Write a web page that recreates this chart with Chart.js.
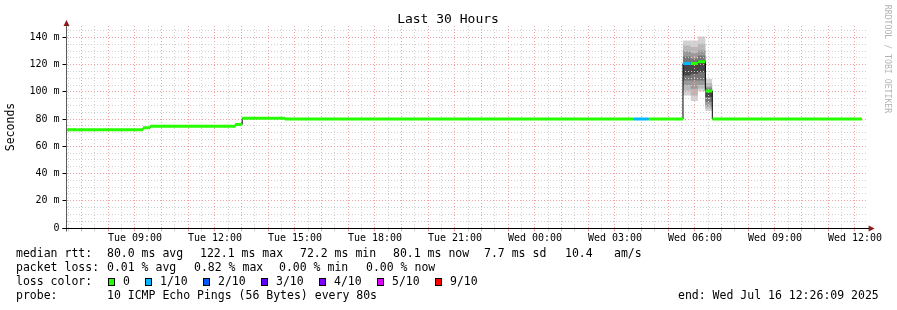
<!DOCTYPE html>
<html>
<head>
<meta charset="utf-8">
<script src="https://cdn.jsdelivr.net/npm/chart.js@4.4.0/dist/chart.umd.min.js"></script>
<style>
    html, body { margin: 0; padding: 0; background: #ffffff; }
</style>
</head>
<body>
<canvas id="SmokeChart" width="897" height="310"></canvas>
<script>
// hours counted from Tue 00:00, graph covers the last 30 hours
const startHour = 6.436;
const endHour = 36.436;

const timeTicks = [9, 12, 15, 18, 21, 24, 27, 30, 33, 36];
const timeLabels = ['Tue 09:00', 'Tue 12:00', 'Tue 15:00', 'Tue 18:00', 'Tue 21:00', 'Wed 00:00', 'Wed 03:00', 'Wed 06:00', 'Wed 09:00', 'Wed 12:00'];
const rttTicks = [0, 20, 40, 60, 80, 100, 120, 140];
const rttLabels = ['0', '20 m', '40 m', '60 m', '80 m', '100 m', '120 m', '140 m'];

// median rtt in ms, each value holds from its time to the next one
const medianTimes = [6.436, 9.30, 9.57, 12.76, 13.02, 14.62, 27.70, 28.26, 29.55, 29.84, 30.11, 30.39, 30.65, 36.25];
const medianValues = [72.2, 73.6, 74.7, 76.1, 80.6, 80.0, 80.0, 80.0, 120.9, 120.9, 122.1, 100.7, 80.1];
const medianLoss = [0, 0, 0, 0, 0, 0, 1, 0, 1, 0, 0, 0, 0];

// smoke: the 10 sorted pings (ms) of each step around Wed 06:00
const smokeTimes = [29.55, 29.84, 30.11, 30.39, 30.65];
const smokePings = [
    [97.4, 101.1, 104.8, 108.4, 112.1, 122.0, 126.0, 129.9, 134.1, 137.7],
    [93.3, 97.4, 102.3, 108.4, 113.3, 122.0, 124.3, 128.5, 132.9, 137.7],
    [100.5, 102.5, 105.0, 108.4, 114.5, 123.5, 126.7, 130.4, 135.3, 140.7],
    [86.0, 87.7, 89.4, 92.5, 96.2, 101.5, 102.5, 104.0, 106.5, 109.7]
];

const lossLabels = ['0', '1/10', '2/10', '3/10', '4/10', '5/10', '9/10'];
const lossColors = ['#26ff00', '#00b8ff', '#0059ff', '#5e00ff', '#7e00ff', '#dd00ff', '#ff0000'];

const smokeGreys = ['#d2d2d2', '#b8b8b8', '#9a9a9a', '#767676', '#474747'];
const MajorGrid = '#f0a0a0';
const MinorGrid = '#d0d0d0';
const MonoFont = '"DejaVu Sans Mono", monospace';

function lossSegments(level) {
    const points = [];
    medianValues.forEach(function (v, i) {
        if (medianLoss[i] !== level) return;
        points.push({x: medianTimes[i], y: v}, {x: medianTimes[i + 1], y: v}, {x: medianTimes[i + 1], y: null});
    });
    return points;
}

// black step line first, so no smoke band has to fill down to dataset 0
const datasets = [{
    data: medianTimes.map((t, i) => ({x: t, y: medianValues[Math.min(i, medianValues.length - 1)]})),
    stepped: true,
    borderColor: '#000000',
    borderWidth: 1,
    pointRadius: 0,
    fill: false,
    order: 3
}];

// nested smoke bands, outer (lightest) at the bottom
for (let b = 0; b < 5; b++) {
    const low = smokePings.map((p, i) => ({x: smokeTimes[i], y: p[b]}));
    const high = smokePings.map((p, i) => ({x: smokeTimes[i], y: p[9 - b]}));
    low.push({x: smokeTimes[4], y: smokePings[3][b]});
    high.push({x: smokeTimes[4], y: smokePings[3][9 - b]});
    datasets.push({data: low, stepped: true, borderWidth: 0, pointRadius: 0, fill: false, order: 20});
    datasets.push({data: high, stepped: true, borderWidth: 0, pointRadius: 0, fill: '-1', backgroundColor: smokeGreys[b], order: 10 - b});
}

datasets.push({
    data: lossSegments(0),
    borderColor: lossColors[0],
    borderWidth: 3,
    borderCapStyle: 'butt',
    pointRadius: 0,
    fill: false,
    spanGaps: false,
    order: 2
});

datasets.push({
    data: lossSegments(1),
    borderColor: lossColors[1],
    borderWidth: 3,
    borderCapStyle: 'butt',
    pointRadius: 0,
    fill: false,
    spanGaps: false,
    order: 1
});

const decorations = {
    id: 'decorations',
    afterDraw(chart) {
        const ctx = chart.ctx;
        const xs = chart.scales.x;
        const ys = chart.scales.y;
        const area = chart.chartArea;
        const axisX = Math.floor(area.left) + 0.5;
        const axisY = Math.floor(area.bottom) + 0.5;

        ctx.save();
        ctx.lineWidth = 1;

        // little marks under the time axis
        xs.ticks.forEach(function (t) {
            const px = Math.round(xs.getPixelForValue(t.value) - 0.5) + 0.5;
            ctx.strokeStyle = t.value % 1 === 0 ? MajorGrid : MinorGrid;
            ctx.beginPath();
            ctx.moveTo(px, axisY);
            ctx.lineTo(px, axisY + 3);
            ctx.stroke();
        });

        ctx.strokeStyle = '#000000';
        rttTicks.forEach(function (v) {
            const py = Math.round(ys.getPixelForValue(v) - 0.5) + 0.5;
            ctx.beginPath();
            ctx.moveTo(axisX - 4, py);
            ctx.lineTo(axisX, py);
            ctx.stroke();
        });

        // axes and arrows
        ctx.strokeStyle = '#5a5a5a';
        ctx.beginPath();
        ctx.moveTo(axisX, axisY + 3);
        ctx.lineTo(axisX, area.top - 4);
        ctx.stroke();
        ctx.strokeStyle = '#000000';
        ctx.beginPath();
        ctx.moveTo(axisX - 4, axisY);
        ctx.lineTo(area.right + 3, axisY);
        ctx.stroke();

        ctx.fillStyle = '#8b1a1a';
        ctx.beginPath();
        ctx.moveTo(axisX, area.top - 6);
        ctx.lineTo(axisX - 3, area.top);
        ctx.lineTo(axisX + 3, area.top);
        ctx.closePath();
        ctx.fill();
        ctx.beginPath();
        ctx.moveTo(area.right + 8, axisY);
        ctx.lineTo(area.right + 2, axisY - 3);
        ctx.lineTo(area.right + 2, axisY + 3);
        ctx.closePath();
        ctx.fill();

        // texts
        ctx.fillStyle = '#000000';
        ctx.textBaseline = 'middle';
        ctx.textAlign = 'center';
        ctx.font = '13px ' + MonoFont;
        ctx.fillText('Last 30 Hours', 448, 20);

        ctx.font = '11.5px ' + MonoFont;
        ctx.save();
        ctx.translate(11, 127);
        ctx.rotate(-Math.PI / 2);
        ctx.fillText('Seconds', 0, 0);
        ctx.restore();

        ctx.save();
        ctx.font = '8.2px ' + MonoFont;
        ctx.fillStyle = '#b4b4b4';
        ctx.translate(887, 59);
        ctx.rotate(Math.PI / 2);
        ctx.fillText('RRDTOOL / TOBI OETIKER', 0, 0);
        ctx.restore();

        ctx.textAlign = 'left';
        const rows = [
            [254, [[16, 'median rtt:'], [107, '80.0 ms avg'], [200, '122.1 ms max'], [300, '72.2 ms min'], [393, '80.1 ms now'], [484, '7.7 ms sd'], [565, '10.4'], [614, 'am/s']]],
            [268, [[16, 'packet loss:'], [107, '0.01 % avg'], [194, '0.82 % max'], [279, '0.00 % min'], [366, '0.00 % now']]],
            [282, [[16, 'loss color:']]],
            [296, [[16, 'probe:'], [107, '10 ICMP Echo Pings (56 Bytes) every 80s'], [678, 'end: Wed Jul 16 12:26:09 2025']]]
        ];
        rows.forEach(function (row) {
            row[1].forEach(function (item) {
                ctx.fillText(item[1], item[0], row[0]);
            });
        });

        const boxX = [108, 145, 203, 261, 319, 377, 435];
        lossLabels.forEach(function (label, i) {
            ctx.fillStyle = lossColors[i];
            ctx.fillRect(boxX[i] + 0.5, 278.5, 6, 7);
            ctx.strokeStyle = '#000000';
            ctx.strokeRect(boxX[i] + 0.5, 278.5, 6, 7);
            ctx.fillStyle = '#000000';
            ctx.fillText(label, boxX[i] + 15, 282);
        });

        ctx.restore();
    }
};

const SmokeChart = new Chart(document.getElementById('SmokeChart'), {
    type: 'line',
    data: { datasets: datasets },
    options: {
        responsive: false,
        animation: false,
        devicePixelRatio: 1,
        events: [],
        layout: { padding: { left: 0, top: 26, right: 30.4, bottom: 0 } },
        plugins: {
            legend: { display: false },
            tooltip: { enabled: false },
            filler: { drawTime: 'beforeDraw' }
        },
        scales: {
            x: {
                type: 'linear',
                min: startHour,
                max: endHour,
                afterFit: function (scale) { scale.height = 82; },
                afterBuildTicks: function (scale) {
                    const ticks = [];
                    for (let h = Math.ceil(startHour * 2) / 2; h <= endHour; h += 0.5) ticks.push({value: h});
                    scale.ticks = ticks;
                },
                ticks: {
                    autoSkip: false,
                    maxRotation: 0,
                    padding: 4,
                    color: '#000000',
                    font: { family: MonoFont, size: 10 },
                    callback: function (value) {
                        const i = timeTicks.indexOf(value);
                        return i >= 0 ? timeLabels[i] : '';
                    }
                },
                grid: {
                    drawTicks: false,
                    lineWidth: 1,
                    color: function (c) { return c.tick && c.tick.value % 1 === 0 ? MajorGrid : MinorGrid; }
                },
                border: { display: false, dash: [1, 2] }
            },
            y: {
                type: 'linear',
                min: 0,
                max: 148.4,
                afterFit: function (scale) { scale.width = 66.6; },
                afterBuildTicks: function (scale) {
                    const ticks = [];
                    for (let v = 0; v <= 145; v += 5) ticks.push({value: v});
                    scale.ticks = ticks;
                },
                ticks: {
                    autoSkip: false,
                    padding: 7,
                    color: '#000000',
                    font: { family: MonoFont, size: 10 },
                    callback: function (value) {
                        const i = rttTicks.indexOf(value);
                        return i >= 0 ? rttLabels[i] : '';
                    }
                },
                grid: {
                    drawTicks: false,
                    lineWidth: 1,
                    color: function (c) { return c.tick && c.tick.value % 20 === 0 ? MajorGrid : MinorGrid; }
                },
                border: { display: false, dash: [1, 2] }
            }
        }
    },
    plugins: [decorations]
});
</script>
</body>
</html>
